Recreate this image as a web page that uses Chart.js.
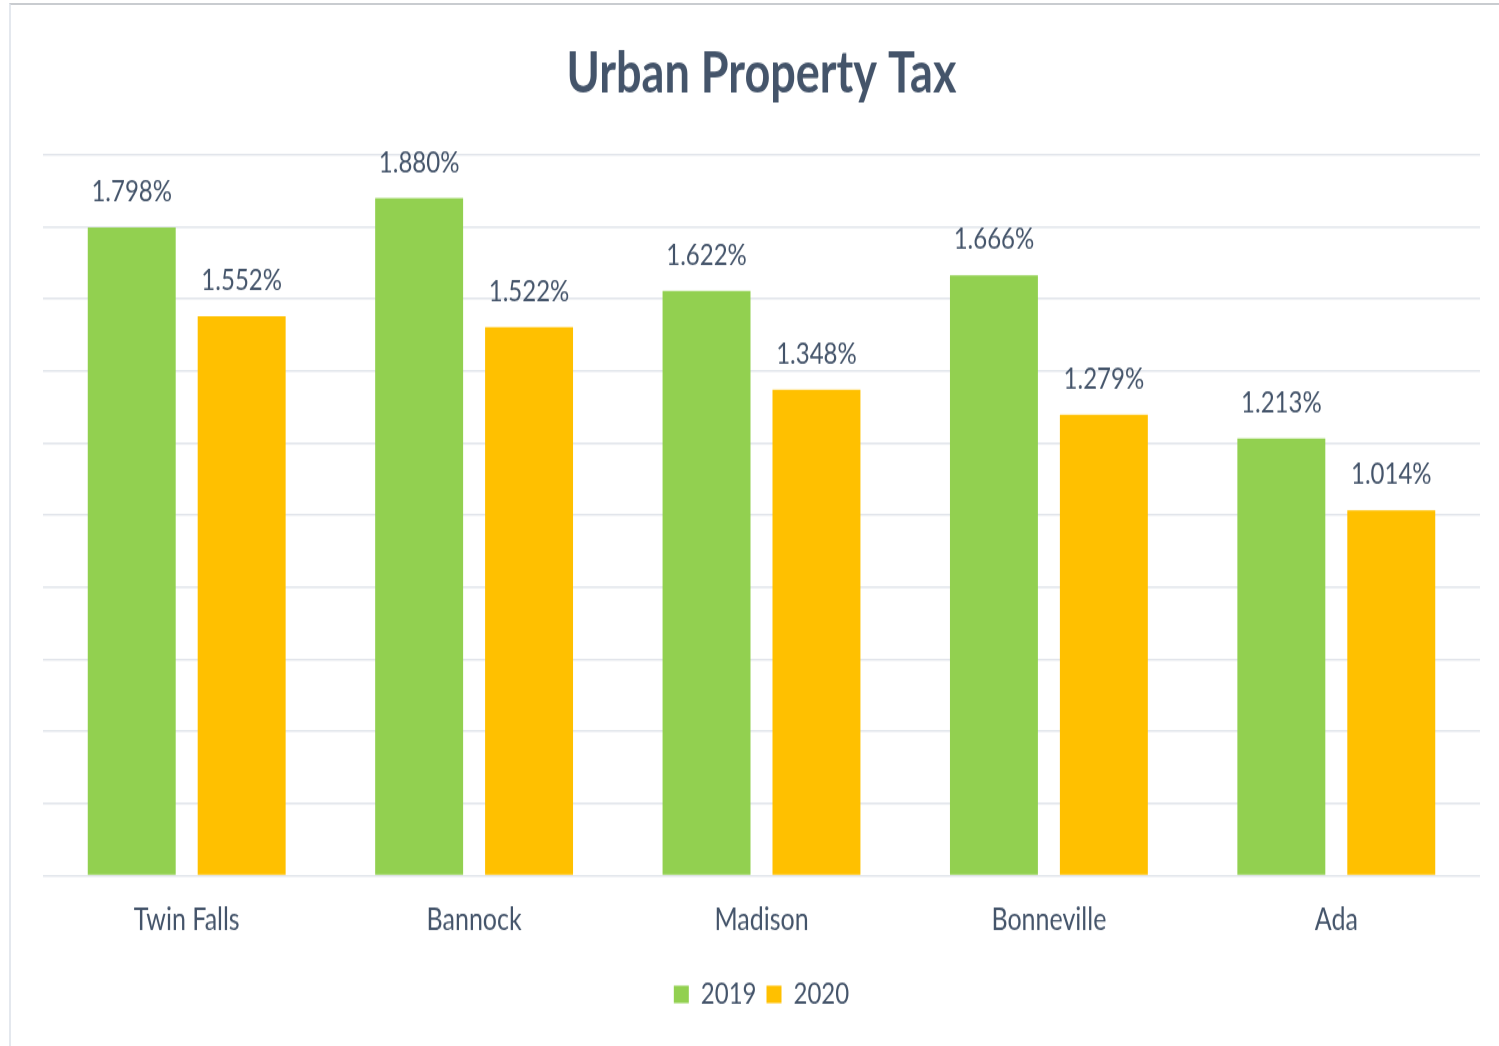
<!DOCTYPE html>
<html>
<head>
<meta charset="utf-8">
<script src="https://cdn.jsdelivr.net/npm/chart.js@4.4.1/dist/chart.umd.min.js"></script>
<style>
  html, body { margin: 0; padding: 0; background: #fff; overflow: hidden; }
  #frame {
    position: absolute; left: 9px; top: 3px; width: 1500px; height: 1050px;
    border-left: 2px solid #e4e8ee; border-top: 2px solid #c9ccd0;
  }
  /* source picture is stretched vertically, so the chart is drawn squat and stretched */
  #wrap {
    position: absolute; left: 0; top: 0; width: 1499px; height: 837px;
    transform: scaleY(1.25); transform-origin: 0 0;
  }
</style>
</head>
<body>
<div id="frame"></div>
<div id="wrap"><canvas id="taxChart"></canvas></div>
<script>
// --- data ---
const counties = ['Twin Falls', 'Bannock', 'Madison', 'Bonneville', 'Ada'];
const rate2019 = [1.798, 1.880, 1.622, 1.666, 1.213];
const rate2020 = [1.552, 1.522, 1.348, 1.279, 1.014];
const yTicks = [0, 0.2, 0.4, 0.6, 0.8, 1.0, 1.2, 1.4, 1.6, 1.8, 2.0];

const textColor = '#44546A';

// value labels above each bar
const barLabels = {
    id: 'barLabels',
    afterDatasetsDraw(chart) {
        const ctx = chart.ctx;
        ctx.save();
        ctx.font = '24px Lato';
        ctx.fillStyle = textColor;
        ctx.textAlign = 'center';
        ctx.textBaseline = 'middle';
        chart.data.datasets.forEach((ds, i) => {
            chart.getDatasetMeta(i).data.forEach((bar, j) => {
                ctx.fillText(ds.data[j].toFixed(3) + '%', bar.x, bar.y - 28.6);
            });
        });
        ctx.restore();
    }
};

new Chart(document.getElementById('taxChart'), {
    type: 'bar',
    data: {
        labels: counties,
        datasets: [
            { label: '2019', data: rate2019, backgroundColor: '#92D050' },
            { label: '2020', data: rate2020, backgroundColor: '#FFC000' }
        ]
    },
    options: {
        responsive: true,
        maintainAspectRatio: false,
        animation: false,
        categoryPercentage: 0.765,
        barPercentage: 0.8,
        layout: { padding: { left: 43, right: 19, top: 0, bottom: 19.4 } },
        plugins: {
            title: {
                display: true,
                text: 'Urban Property Tax',
                color: textColor,
                font: { family: 'Lato', size: 45, weight: 'bold', lineHeight: 1.2 },
                padding: { top: 32.4, bottom: 37.4 }
            },
            legend: {
                position: 'bottom',
                labels: {
                    color: textColor,
                    font: { family: 'Lato', size: 24 },
                    boxWidth: 15,
                    boxHeight: 14,
                    padding: 10
                }
            },
            tooltip: { enabled: false }
        },
        scales: {
            x: {
                grid: { display: false, drawTicks: false },
                border: { display: false },
                ticks: {
                    color: textColor,
                    font: { family: 'Lato', size: 25, lineHeight: 1.2 },
                    padding: 20
                },
                afterFit(scale) { scale.height += 3; }
            },
            y: {
                min: 0,
                max: 2.0,
                afterBuildTicks(scale) { scale.ticks = yTicks.map(v => ({ value: v })); },
                grid: { color: '#e1e5eb', lineWidth: 1.6, drawTicks: false },
                border: { display: false },
                ticks: { display: false }
            }
        }
    },
    plugins: [barLabels]
});
</script>
</body>
</html>
